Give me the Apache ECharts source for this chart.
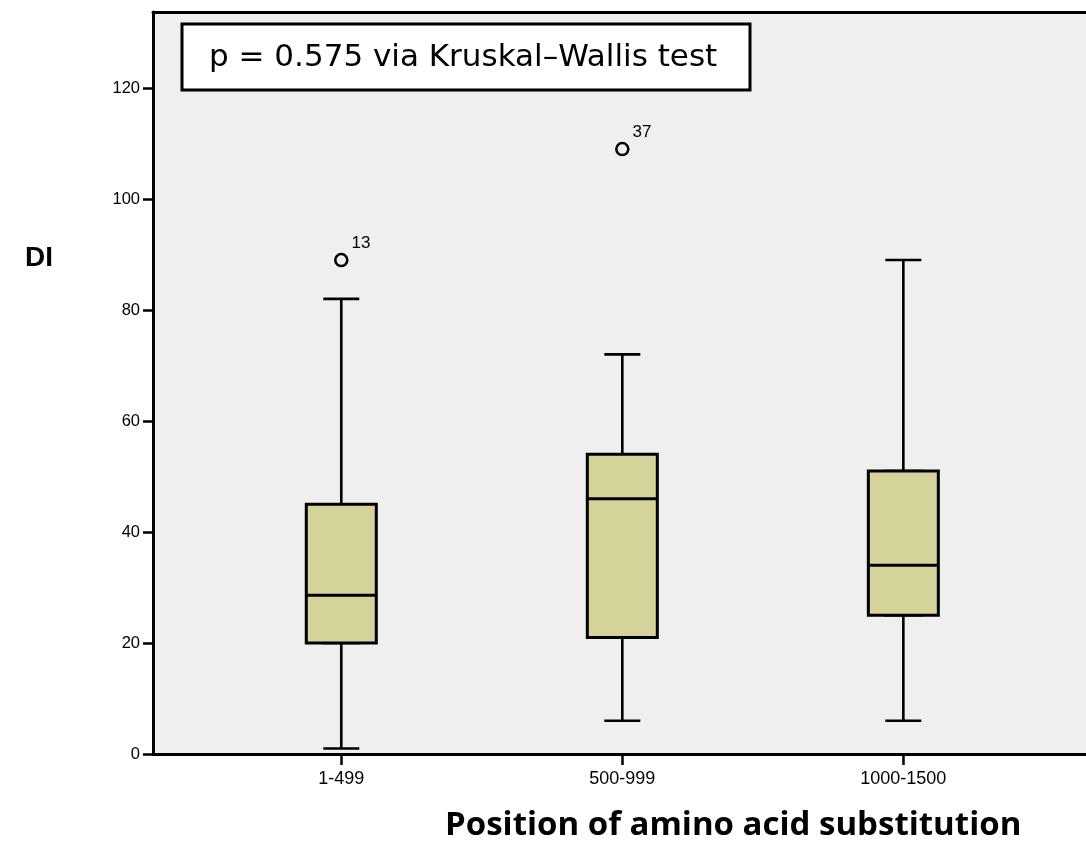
<!DOCTYPE html>
<html>
<head>
<meta charset="utf-8">
<script src="https://cdn.jsdelivr.net/npm/echarts@6/dist/echarts.min.js"></script>
<style>
html,body{margin:0;padding:0;background:#ffffff;}
#chart{width:1086px;height:844px;}
</style>
</head>
<body>
<div id="chart"></div>
<script>
// ---- data ----
const categories = ['1-499', '500-999', '1000-1500'];
const positions = [1, 2, 3];
const lowWhisker = [1, 6, 6];
const q1 = [20, 21, 25];
const median = [28.6, 46, 34];
const q3 = [45, 54, 51];
const highWhisker = [82, 72, 89];
const outlierPos = [1, 2];
const outlierValue = [89, 109];
const outlierCase = ['13', '37'];
const yTicks = [0, 20, 40, 60, 80, 100, 120];

const whiskerData = positions.map((p, i) => [p, lowWhisker[i], q1[i], median[i], q3[i], highWhisker[i]]);
const boxData = positions.map((p, i) => [p, q1[i], q1[i], median[i], q3[i], q3[i]]);
const outlierData = outlierPos.map((p, i) => ({ value: [p, outlierValue[i]], name: outlierCase[i] }));

const chart = echarts.init(document.getElementById('chart'), null, { renderer: 'canvas' });
const xMin = 0.33, xMax = 3.65;
chart.setOption({
  animation: false,
  backgroundColor: '#ffffff',
  grid: {
    left: 153, right: 0, top: 12, bottom: 90,
    show: true, backgroundColor: '#efefef', borderWidth: 0,
    outerBoundsMode: 'none'
  },
  xAxis: [{
    type: 'value', min: xMin, max: xMax, position: 'bottom',
    axisLine: { show: true, onZero: false, lineStyle: { color: '#000', width: 3 } },
    axisTick: { show: true, length: 11, lineStyle: { color: '#000', width: 2.5 }, customValues: positions },
    axisLabel: {
      show: true, customValues: positions, margin: 16,
      color: '#000', fontFamily: 'Liberation Sans, Arial, sans-serif', fontSize: 18,
      formatter: v => categories[positions.indexOf(Math.round(v))] || ''
    },
    splitLine: { show: false }
  }, {
    type: 'value', min: xMin, max: xMax, position: 'top',
    axisLine: { show: true, onZero: false, lineStyle: { color: '#000', width: 3 } },
    axisTick: { show: false }, axisLabel: { show: false }, splitLine: { show: false }
  }],
  yAxis: {
    type: 'value', min: 0, max: 133.7, interval: 20,
    axisLine: { show: true, lineStyle: { color: '#000', width: 3 } },
    axisTick: { show: true, length: 10, lineStyle: { color: '#000', width: 2.5 }, customValues: yTicks },
    axisLabel: {
      show: true, customValues: yTicks, margin: 13,
      color: '#000', fontFamily: 'Liberation Sans, Arial, sans-serif', fontSize: 16.5
    },
    splitLine: { show: false }
  },
  series: [{
    type: 'boxplot', xAxisIndex: 0, silent: true,
    encode: { x: 0, y: [1, 2, 3, 4, 5] },
    boxWidth: [36, 36],
    itemStyle: { color: '#d4d39a', borderColor: '#000', borderWidth: 2.6 },
    emphasis: { disabled: true },
    data: whiskerData
  }, {
    type: 'boxplot', xAxisIndex: 1, silent: true,
    encode: { x: 0, y: [1, 2, 3, 4, 5] },
    boxWidth: [70, 70],
    itemStyle: { color: '#d4d39a', borderColor: '#000', borderWidth: 3 },
    emphasis: { disabled: true },
    data: boxData
  }, {
    type: 'scatter', xAxisIndex: 0, silent: true,
    symbol: 'circle', symbolSize: 12,
    itemStyle: { color: '#efefef', borderColor: '#000', borderWidth: 2.5, opacity: 1 },
    label: {
      show: true, position: 'right', offset: [-2, -17],
      formatter: p => p.name,
      color: '#000', fontFamily: 'Liberation Sans, Arial, sans-serif', fontSize: 17
    },
    data: outlierData
  }],
  graphic: [{
    type: 'rect', x: 182, y: 24, z: 10,
    shape: { width: 568, height: 66 },
    style: { fill: '#fff', stroke: '#000', lineWidth: 3 }
  }, {
    type: 'text', x: 209, y: 58, z: 11,
    style: {
      text: 'p = 0.575 via Kruskal\u2013Wallis test',
      fill: '#000', font: '31px "DejaVu Sans", sans-serif', verticalAlign: 'middle', align: 'left'
    }
  }, {
    type: 'text', x: 25, y: 258,
    style: {
      text: 'DI', fill: '#000', font: 'bold 28px "Liberation Sans", Arial, sans-serif', verticalAlign: 'middle', align: 'left'
    }
  }, {
    type: 'text', x: 445, y: 826,
    style: {
      text: 'Position of amino acid substitution', fill: '#000',
      font: 'bold 33px "Open Sans", sans-serif', verticalAlign: 'middle', align: 'left'
    }
  }]
});
</script>
</body>
</html>
